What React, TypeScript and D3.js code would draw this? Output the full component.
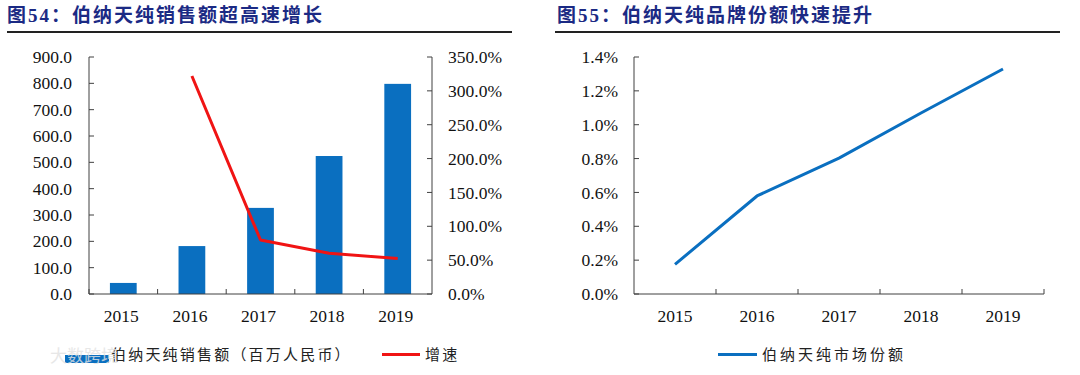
import React from "react";
import * as d3 from "d3";

const years = ["2015", "2016", "2017", "2018", "2019"];
const sales = [42, 182, 327, 524, 798];
const growthYears = ["2016", "2017", "2018", "2019"];
const growth = [322, 79.7, 60.2, 52.3];
const share = [0.175, 0.579, 0.803, 1.069, 1.329];

const leftTicks = [0, 100, 200, 300, 400, 500, 600, 700, 800, 900];
const rightTicks = [0, 50, 100, 150, 200, 250, 300, 350];
const shareTicks = [0, 0.2, 0.4, 0.6, 0.8, 1.0, 1.2, 1.4];

const title1 = "图54：伯纳天纯销售额超高速增长";
const title2 = "图55：伯纳天纯品牌份额快速提升";
const legendSales = "伯纳天纯销售额（百万人民币）";
const legendGrowth = "增速";
const legendShare = "伯纳天纯市场份额";

const SERIF = "Liberation Serif, serif";
const TITLEFONT = "Liberation Serif, Noto Sans CJK SC, sans-serif";
const CJK = "Noto Sans CJK SC, Noto Sans, sans-serif";
const BLUE = "#0a6fc0";
const RED = "#f01414";
const AXIS = "#404040";
const TITLE = "#1b2a84";

export default function App() {
  const top = 57;
  const bottom = 294;

  // Left chart
  const xL = d3.scaleBand<string>().domain(years).range([89, 432]).padding(0);
  const yL = d3.scaleLinear().domain([0, 900]).range([bottom, top]);
  const yR = d3.scaleLinear().domain([0, 350]).range([bottom, top]);
  const barW = xL.bandwidth() * 0.39;
  const growthLine = d3
    .line<number>()
    .x((_, i) => (xL(growthYears[i]) as number) + xL.bandwidth() / 2)
    .y((d) => yR(d));

  // Right chart
  const x2 = d3.scaleBand<string>().domain(years).range([634, 1044]).padding(0);
  const y2 = d3.scaleLinear().domain([0, 1.4]).range([bottom, top]);
  const shareLine = d3
    .line<number>()
    .x((_, i) => (x2(years[i]) as number) + x2.bandwidth() / 2)
    .y((d) => y2(d));

  const fmt1 = d3.format(".1f");

  return (
    <svg width={1080} height={375} style={{ position: "absolute", left: 0, top: 0, background: "#fff" }}>
      {/* Titles */}
      <text x={7} y={22} fontFamily={TITLEFONT} fontWeight="bold" fontSize={19} letterSpacing={2} fill={TITLE}>
        {title1}
      </text>
      <line x1={7} x2={512} y1={32} y2={32} stroke="#222" strokeWidth={2} />
      <text x={557} y={22} fontFamily={TITLEFONT} fontWeight="bold" fontSize={19} letterSpacing={2} fill={TITLE}>
        {title2}
      </text>
      <line x1={555} x2={1060} y1={32} y2={32} stroke="#222" strokeWidth={2} />

      {/* Left chart bars */}
      {sales.map((v, i) => {
        const cx = (xL(years[i]) as number) + xL.bandwidth() / 2;
        return (
          <rect key={i} x={cx - barW / 2} y={yL(v)} width={barW} height={bottom - yL(v)} fill={BLUE} />
        );
      })}
      {/* Left axes */}
      <line x1={89} x2={89} y1={top} y2={bottom} stroke={AXIS} />
      <line x1={432} x2={432} y1={top} y2={bottom} stroke={AXIS} />
      <line x1={89} x2={432} y1={bottom} y2={bottom} stroke={AXIS} />
      {leftTicks.map((t) => (
        <g key={t}>
          <line x1={89} x2={94} y1={yL(t)} y2={yL(t)} stroke={AXIS} />
          <text x={72} y={yL(t)} dy="0.35em" textAnchor="end" fontFamily={SERIF} fontSize={17.5} fill="#111">
            {fmt1(t)}
          </text>
        </g>
      ))}
      {rightTicks.map((t) => (
        <g key={t}>
          <line x1={427} x2={432} y1={yR(t)} y2={yR(t)} stroke={AXIS} />
          <text x={448} y={yR(t)} dy="0.35em" textAnchor="start" fontFamily={SERIF} fontSize={17.5} fill="#111">
            {fmt1(t) + "%"}
          </text>
        </g>
      ))}
      {years.map((yr) => (
        <g key={yr}>
          <line x1={xL(yr) as number} x2={xL(yr) as number} y1={bottom} y2={bottom - 5} stroke={AXIS} />
          <text
            x={(xL(yr) as number) + xL.bandwidth() / 2 - 2}
            y={322}
            textAnchor="middle"
            fontFamily={SERIF}
            fontSize={17.5}
            fill="#111"
          >
            {yr}
          </text>
        </g>
      ))}
      <path d={growthLine(growth) || ""} fill="none" stroke={RED} strokeWidth={3} strokeLinejoin="round" />

      {/* Left legend */}
      <rect x={65} y={355} width={44} height={8} fill={BLUE} />
      <text x={111} y={355} dy="0.35em" fontFamily={CJK} fontSize={15} letterSpacing={2.2} fill="#222">
        {legendSales}
      </text>
      <line x1={382} x2={420} y1={354.5} y2={354.5} stroke={RED} strokeWidth={3} />
      <text x={425} y={355} dy="0.35em" fontFamily={CJK} fontSize={15} letterSpacing={2.2} fill="#222">
        {legendGrowth}
      </text>
      {/* watermark */}
      <text x={50} y={356} dy="0.35em" fontFamily={CJK} fontSize={17} fill="#e2e2e2" opacity={0.8}>
        大数跨境
      </text>

      {/* Right chart */}
      <line x1={634} x2={634} y1={top} y2={bottom} stroke={AXIS} />
      <line x1={634} x2={1044} y1={bottom} y2={bottom} stroke={AXIS} />
      {shareTicks.map((t) => (
        <g key={t}>
          <line x1={634} x2={639} y1={y2(t)} y2={y2(t)} stroke={AXIS} />
          <text x={618} y={y2(t)} dy="0.35em" textAnchor="end" fontFamily={SERIF} fontSize={17.5} fill="#111">
            {fmt1(t) + "%"}
          </text>
        </g>
      ))}
      {years.map((yr) => (
        <g key={yr}>
          <line
            x1={(x2(yr) as number) + x2.bandwidth()}
            x2={(x2(yr) as number) + x2.bandwidth()}
            y1={bottom}
            y2={bottom - 5}
            stroke={AXIS}
          />
          <text
            x={(x2(yr) as number) + x2.bandwidth() / 2}
            y={322}
            textAnchor="middle"
            fontFamily={SERIF}
            fontSize={17.5}
            fill="#111"
          >
            {yr}
          </text>
        </g>
      ))}
      <path d={shareLine(share) || ""} fill="none" stroke={BLUE} strokeWidth={3} strokeLinejoin="round" />

      {/* Right legend */}
      <line x1={718} x2={757} y1={354.5} y2={354.5} stroke={BLUE} strokeWidth={3} />
      <text x={762} y={355} dy="0.35em" fontFamily={CJK} fontSize={15} letterSpacing={3} fill="#222">
        {legendShare}
      </text>
    </svg>
  );
}
